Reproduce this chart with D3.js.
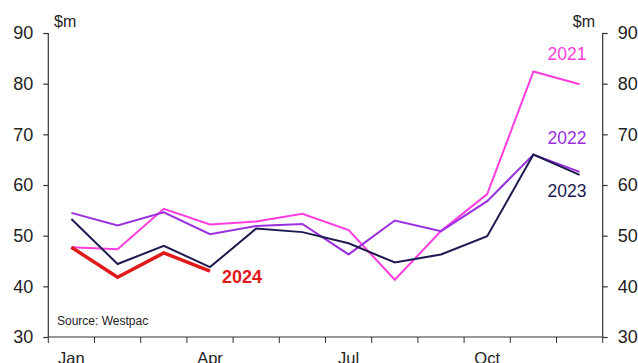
<!DOCTYPE html>
<html>
<head>
<meta charset="utf-8">
<script src="https://cdn.jsdelivr.net/npm/d3@7"></script>
<style>
  html, body { margin: 0; padding: 0; background: #fff; }
  svg { display: block; font-family: "Liberation Sans", Arial, sans-serif; }
</style>
</head>
<body>
<svg id="chart" width="638" height="363"></svg>
<script>
// Monthly values, $m
const months = ["Jan","Feb","Mar","Apr","May","Jun","Jul","Aug","Sep","Oct","Nov","Dec"];
const monthLabels = ["Jan","Apr","Jul","Oct"];
const yTicks = [30,40,50,60,70,80,90];

const v2021 = [47.7,47.3,55.3,52.2,52.8,54.3,51.1,41.3,50.9,58.2,82.4,79.9];
const v2022 = [54.5,52.0,54.6,50.3,51.9,52.3,46.3,53.0,50.9,56.8,66.0,62.6];
const v2023 = [53.3,44.4,48.0,43.8,51.4,50.7,48.5,44.7,46.3,49.9,66.0,62.0];
const v2024 = [47.7,41.8,46.6,43.0];

const series = [
  { name: "2021", values: v2021, color: "#ff3ddf", width: 2 },
  { name: "2022", values: v2022, color: "#9a2fe0", width: 2 },
  { name: "2023", values: v2023, color: "#1c1a4f", width: 2 },
  { name: "2024", values: v2024, color: "#e0191b", width: 3.5 }
];

const svg = d3.select("#chart");
const plotL = 48.3, plotR = 602.7, plotT = 33, plotB = 337;
const axisColor = "#333";
const textColor = "#222";

const x = d3.scaleBand().domain(months).range([plotL, plotR]);
const y = d3.scaleLinear().domain([30, 90]).range([plotB, plotT]);

// Left axis
const gl = svg.append("g").attr("transform", `translate(${plotL},0)`)
  .call(d3.axisLeft(y).tickValues(yTicks).tickSize(5).tickPadding(10));
// Right axis
const gr = svg.append("g").attr("transform", `translate(${plotR},0)`)
  .call(d3.axisRight(y).tickValues(yTicks).tickSize(5).tickPadding(10));
// Bottom axis: ticks on month boundaries
const tickPos = months.map(m => x(m)).concat([plotR]);
const gb = svg.append("g");
gb.append("line").attr("x1", plotL).attr("x2", plotR).attr("y1", plotB).attr("y2", plotB)
  .attr("stroke", axisColor).attr("stroke-width", 1.2);
gb.selectAll("line.tk").data(tickPos).join("line").attr("class", "tk")
  .attr("x1", d => d).attr("x2", d => d).attr("y1", plotB).attr("y2", plotB + 6)
  .attr("stroke", axisColor).attr("stroke-width", 1);
gb.selectAll("text").data(monthLabels).join("text")
  .attr("x", d => x(d) + x.bandwidth() / 2).attr("y", 363.5)
  .attr("text-anchor", "middle").attr("font-size", 16.5).attr("fill", textColor)
  .text(d => d);

[gl, gr].forEach(g => {
  g.select(".domain").attr("stroke", axisColor).attr("stroke-width", 1.2);
  g.selectAll(".tick line").attr("stroke", axisColor).attr("stroke-width", 1.2);
  g.selectAll(".tick text").attr("font-size", 18).attr("fill", textColor)
    .attr("font-family", "Liberation Sans, Arial, sans-serif");
});
gl.select(".domain").attr("d", `M0,${plotT}V${plotB}`);
gr.select(".domain").attr("d", `M0,${plotT}V${plotB}`);

// Unit labels
svg.append("text").attr("x", 54).attr("y", 27).attr("font-size", 16).attr("fill", textColor).text("$m");
svg.append("text").attr("x", 595).attr("y", 27).attr("text-anchor", "end").attr("font-size", 16).attr("fill", textColor).text("$m");

// Lines
const line = d3.line().x((d, i) => x(months[i]) + x.bandwidth() / 2).y(d => y(d));
svg.append("g").selectAll("path").data(series).join("path")
  .attr("d", d => line(d.values))
  .attr("fill", "none").attr("stroke", d => d.color).attr("stroke-width", d => d.width)
  .attr("stroke-linejoin", "miter");

// Series labels
const lab = [
  { s: series[0], x: 567, y: 60, weight: "normal", anchor: "middle", size: 17.5 },
  { s: series[1], x: 567, y: 144, weight: "normal", anchor: "middle", size: 17.5 },
  { s: series[2], x: 567, y: 197, weight: "normal", anchor: "middle", size: 17.5 },
  { s: series[3], x: 222, y: 283, weight: "bold", anchor: "start", size: 18 }
];
svg.append("g").selectAll("text").data(lab).join("text")
  .attr("x", d => d.x).attr("y", d => d.y).attr("text-anchor", d => d.anchor)
  .attr("font-size", d => d.size).attr("font-weight", d => d.weight).attr("fill", d => d.s.color)
  .text(d => d.s.name);

// Source note
svg.append("text").attr("x", 57).attr("y", 325).attr("font-size", 12).attr("fill", textColor)
  .text("Source: Westpac");
</script>
</body>
</html>
